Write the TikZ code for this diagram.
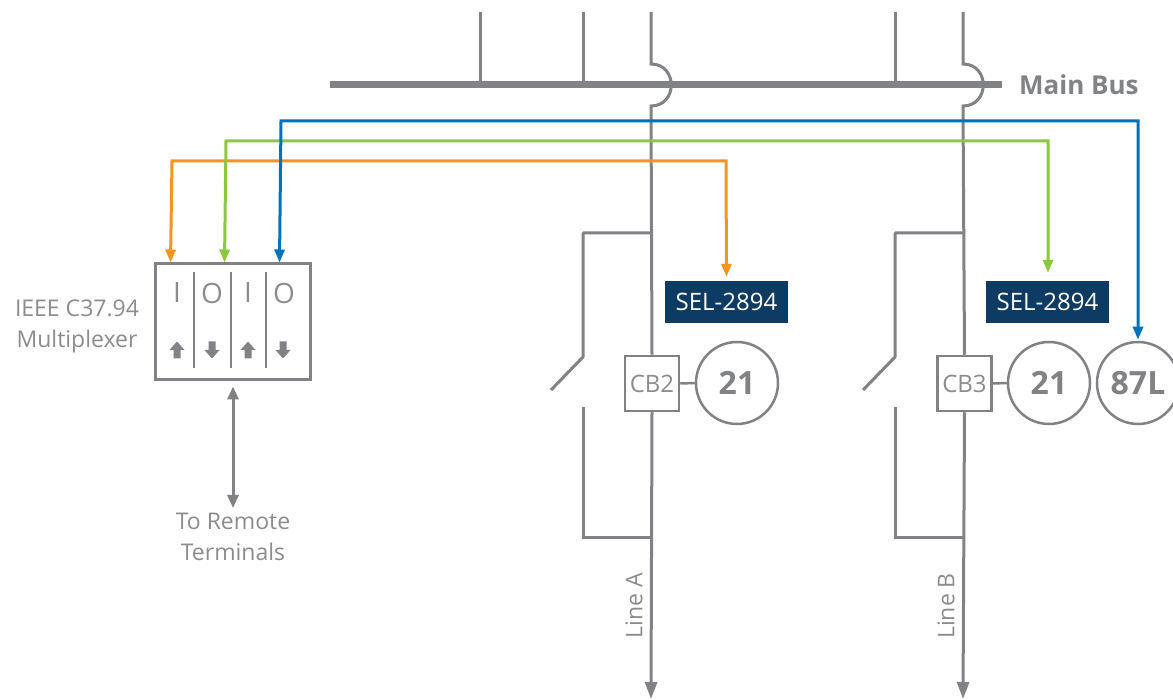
\documentclass[tikz,border=0pt]{standalone}
\usepackage{fontspec}
\setmainfont{Open Sans}
\usetikzlibrary{arrows.meta,calc}
\definecolor{lgrey}{HTML}{808285}
\definecolor{tgrey}{HTML}{8A8C8E}
\definecolor{navy}{HTML}{0D3B63}
\definecolor{sorange}{HTML}{F7941D}
\definecolor{sgreen}{HTML}{8DC63F}
\definecolor{sblue}{HTML}{0072BC}
\tikzset{
  gline/.style={draw=lgrey,line width=3pt},
  cline/.style={line width=3pt,{Triangle[length=13pt,width=10pt]}-{Triangle[length=13pt,width=10pt]}},
  cbbox/.style={draw=lgrey,line width=2.5pt,fill=white,minimum width=54pt,minimum height=55pt,inner sep=0pt,text=tgrey,font=\fontsize{24}{28}\selectfont},
  relay/.style={circle,draw=lgrey,line width=2.5pt,fill=white,minimum size=82pt,inner sep=0pt,text=lgrey,font=\fontsize{32}{36}\selectfont\bfseries},
  selbox/.style={fill=navy,text=white,minimum width=123pt,minimum height=42pt,inner sep=0pt,font=\fontsize{24}{28}\selectfont},
  lbl/.style={text=tgrey,font=\fontsize{23}{31}\selectfont,align=center,inner sep=0pt},
  muxletter/.style={text=tgrey,font=\fontsize{28}{30}\selectfont,inner sep=0pt},
  uparrowpic/.pic={\fill[lgrey] (0,-8.5) -- (7.5,0) -- (3.5,0) -- (3.5,8.5) -- (-3.5,8.5) -- (-3.5,0) -- (-7.5,0) -- cycle;},
  downarrowpic/.pic={\fill[lgrey] (0,8.5) -- (7.5,0) -- (3.5,0) -- (3.5,-8.5) -- (-3.5,-8.5) -- (-3.5,0) -- (-7.5,0) -- cycle;}
}
\begin{document}
\begin{tikzpicture}[x=1pt,y=-1pt]
\useasboundingbox (0,0) rectangle (1173,700);

% Main bus and feeders
\draw[draw=lgrey,line width=7pt] (330,85) -- (1002,85);
\node[text=lgrey,font=\fontsize{26}{30}\selectfont\bfseries,anchor=west,inner sep=0pt] (bus) at (1019,85) {Main Bus};
\draw[gline] (480,12) -- (480,85);
\draw[gline] (583,12) -- (583,85);
\draw[gline] (895,12) -- (895,85);

% nodes
\node[cbbox] (cb2) at (652,383.5) {CB2};
\node[cbbox] (cb3) at (964.5,383.5) {CB3};
\node[relay] (r21a) at (737,383) {21};
\node[relay] (r21b) at (1049,383) {21};
\node[relay] (r87) at (1138,383) {87L};
\node[selbox] (sel1) at (726.5,302) {SEL-2894};
\node[selbox] (sel2) at (1047.5,302) {SEL-2894};

% Line A
\draw[gline] (651,12) -- (651,64) .. controls (678,64) and (678,106) .. (651,106) -- (cb2.north);
\draw[gline,-{Triangle[length=17pt,width=12pt]}] (cb2.south) -- (651,699);
\draw[gline,line join=round] (651,233) -- (583,233) -- (583,357) -- (551,390);
\draw[gline] (583,407) -- (583,537) -- (651,537);
\draw[gline,line width=2.5pt] (cb2.east) -- (r21a.west);
\node[lbl,rotate=90] (la) at (634,606) {Line A};

% Line B
\draw[gline] (963,12) -- (963,64) .. controls (990,64) and (990,106) .. (963,106) -- (cb3.north);
\draw[gline,-{Triangle[length=17pt,width=12pt]}] (cb3.south) -- (963,699);
\draw[gline,line join=round] (963,233) -- (895,233) -- (895,357) -- (863,390);
\draw[gline] (895,407) -- (895,537) -- (963,537);
\draw[gline,line width=2.5pt] (cb3.east) -- (r21b.west);
\node[lbl,rotate=90] (lb) at (946,606) {Line B};

% Multiplexer
\node[draw=lgrey,line width=3pt,minimum width=155pt,minimum height=116pt,inner sep=0pt] (mux) at (232.5,322) {};
\draw[draw=lgrey,line width=2pt] (194,272) -- (194,368);
\draw[draw=lgrey,line width=2pt] (231,272) -- (231,368);
\draw[draw=lgrey,line width=2pt] (266,272) -- (266,368);
\node[muxletter] (i1) at (177,293) {I};
\node[muxletter] (o1) at (212,293) {O};
\node[muxletter] (i2) at (248,293) {I};
\node[muxletter] (o2) at (284,293) {O};
\pic at (177,350) {uparrowpic};
\pic at (212,350) {downarrowpic};
\pic at (248,350) {uparrowpic};
\pic at (283,350) {downarrowpic};
\node[lbl] (muxlbl) at (77,326) {IEEE C37.94\\Multiplexer};
\node[lbl] (remote) at (233,537) {To Remote\\Terminals};
\draw[gline,{Triangle[length=13pt,width=11pt]}-{Triangle[length=13pt,width=11pt]},shorten <=5pt,shorten >=5pt] (mux.south -| remote.north) -- (remote.north);

% Communication links
\path (mux.north west) ++(17,0) coordinate (pO);
\path (mux.north west) ++(71,0) coordinate (pG);
\path (mux.north west) ++(126,0) coordinate (pB);
\draw[cline,draw=sorange,shorten >=4pt] (pO) -- (172,161) -- (726,161) -- (sel1.north);
\draw[cline,draw=sgreen,shorten >=8pt] (pG) -- (226,141) -- (1048,141) -- (sel2.north -| 1048,0);
\draw[cline,draw=sblue,shorten >=1pt] (pB) -- (281,121) -- (1138,121) -- (r87.north);
\end{tikzpicture}
\end{document}
